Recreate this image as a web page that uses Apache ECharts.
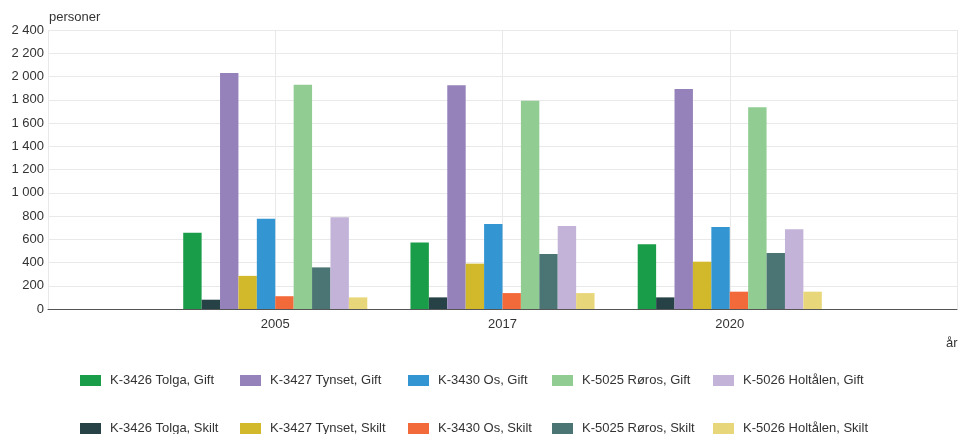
<!DOCTYPE html>
<html lang="no">

<head>
    <meta charset="UTF-8">
    <title>Gifte og skilte</title>
    <style>
        html, body { margin: 0; padding: 0; background: #fff; }
    </style>
</head>

<body>
    <div id="main" style="width: 960px;height: 434px;"></div>
    <script src="https://cdn.jsdelivr.net/npm/echarts@6/dist/echarts.min.js"></script>
    <script>
        var years = ['2005', '2017', '2020'];

        // bars in the order they are drawn within each year
        var names = [
            'K-3426 Tolga, Gift', 'K-3426 Tolga, Skilt',
            'K-3427 Tynset, Gift', 'K-3427 Tynset, Skilt',
            'K-3430 Os, Gift', 'K-3430 Os, Skilt',
            'K-5025 Røros, Gift', 'K-5025 Røros, Skilt',
            'K-5026 Holtålen, Gift', 'K-5026 Holtålen, Skilt'
        ];
        var tolgaGift = [655, 573, 556];
        var tolgaSkilt = [80, 100, 100];
        var tynsetGift = [2030, 1924, 1892];
        var tynsetSkilt = [285, 390, 407];
        var osGift = [777, 731, 705];
        var osSkilt = [110, 137, 149];
        var rorosGift = [1930, 1792, 1735];
        var rorosSkilt = [358, 473, 482];
        var holtalenGift = [789, 714, 685];
        var holtalenSkilt = [100, 137, 149];
        var values = [tolgaGift, tolgaSkilt, tynsetGift, tynsetSkilt, osGift, osSkilt,
            rorosGift, rorosSkilt, holtalenGift, holtalenSkilt];

        var colors = ['#1a9d49', '#274247', '#9582bb', '#d2b92b', '#3396d2',
            '#f26a3a', '#91cc93', '#4b7574', '#c3b3d8', '#e8d77a'];

        var yTicks = [0, 200, 400, 600, 800, 1000, 1200, 1400, 1600, 1800, 2000, 2200, 2400];

        // empty slot on each side so the years sit where they sit in the original
        var axisData = [''].concat(years, ['']);

        var series = names.map(function (n, i) {
            return {
                name: n,
                type: 'bar',
                barGap: 0,
                barCategoryGap: '19%',
                itemStyle: { color: colors[i] },
                data: [null].concat(values[i], [null])
            };
        });

        // one legend per column: Gift on top, Skilt under
        var colLeft = [80, 240, 408, 552, 713];
        var legends = colLeft.map(function (x, c) {
            return {
                orient: 'vertical',
                left: x,
                top: 374,
                width: 170,
                height: 80,
                padding: 0,
                itemGap: 35,
                itemWidth: 21,
                itemHeight: 11,
                icon: 'rect',
                selectedMode: false,
                textStyle: { fontSize: 13, color: '#333', fontFamily: 'Liberation Sans', padding: [0, 0, 0, 4] },
                data: [names[c * 2], names[c * 2 + 1]]
            };
        });

        var chart = echarts.init(document.getElementById('main'));
        chart.setOption({
            animation: false,
            color: colors,
            textStyle: { fontFamily: 'Liberation Sans' },
            grid: {
                left: 48,
                right: 0,
                top: 30,
                bottom: 125,
                containLabel: false
            },
            legend: legends,
            xAxis: {
                type: 'category',
                data: axisData,
                boundaryGap: false,
                axisTick: { show: false },
                axisLine: { lineStyle: { color: '#555', width: 1 } },
                axisLabel: { fontSize: 13, color: '#333', margin: 9 },
                splitLine: { show: true, lineStyle: { color: '#e9e9e9' } }
            },
            yAxis: {
                type: 'value',
                min: yTicks[0],
                max: yTicks[yTicks.length - 1],
                interval: 200,
                name: 'personer',
                nameLocation: 'end',
                nameGap: 3,
                nameTextStyle: { fontSize: 13, color: '#333', align: 'left', padding: [0, 0, 0, 1] },
                axisLine: { show: false },
                axisTick: { show: false },
                axisLabel: {
                    fontSize: 13,
                    color: '#333',
                    margin: 4,
                    formatter: function (v) {
                        return String(v).replace(/\B(?=(\d{3})+(?!\d))/g, ' ');
                    }
                },
                splitLine: { lineStyle: { color: '#e9e9e9' } }
            },
            graphic: [{
                type: 'text',
                left: 946,
                top: 337,
                style: { text: 'år', fontSize: 13, fill: '#333', fontFamily: 'Liberation Sans' }
            }],
            series: series
        });
    </script>
</body>

</html>
